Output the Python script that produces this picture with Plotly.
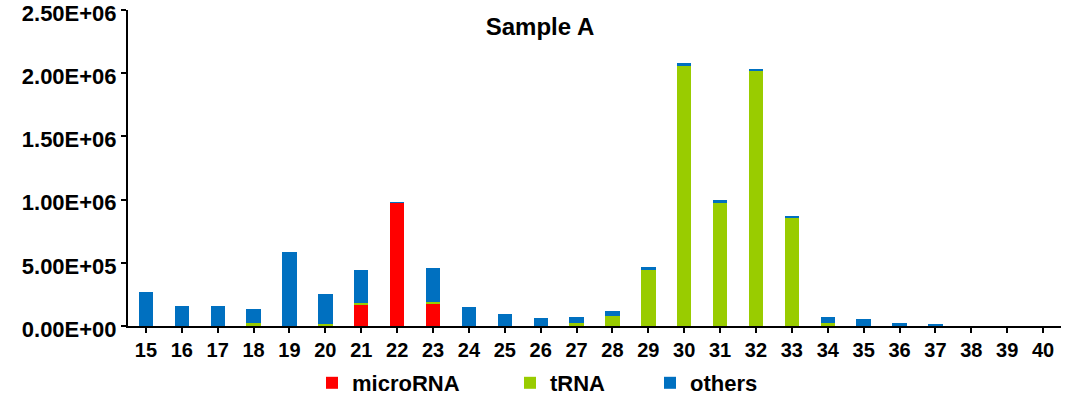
import plotly.graph_objects as go

categories = list(range(15, 41))
microRNA = [0, 0, 0, 0, 0, 0, 1.73e5, 9.75e5, 1.81e5, 0, 0, 0, 0, 0, 0, 0, 0, 0, 0, 0, 0, 0, 0, 0, 0, 0]
tRNA = [0, 0, 0, 2.5e4, 0, 1.2e4, 7e3, 0, 5e3, 0, 3e3, 0, 2.5e4, 8.3e4, 4.42e5, 2.056e6,
        9.7e5, 2.02e6, 8.52e5, 2e4, 0, 0, 0, 0, 0, 0]
others = [2.66e5, 1.6e5, 1.6e5, 1.12e5, 5.84e5, 2.43e5, 2.64e5, 5e3, 2.69e5, 1.5e5, 9.2e4, 6.1e4,
          5e4, 3.2e4, 2.1e4, 2.4e4, 2.4e4, 1.6e4, 1.8e4, 5e4, 5.5e4, 2.7e4, 1e4, 0, 0, 0]
ytick_vals = [0, 5e5, 1e6, 1.5e6, 2e6, 2.5e6]
ytick_text = ["0.00E+00", "5.00E+05", "1.00E+06", "1.50E+06", "2.00E+06", "2.50E+06"]
title = "Sample A"

FONT = "Liberation Sans, Arial, sans-serif"

fig = go.Figure()
series = [("microRNA", microRNA, "#FF0000", "legend"),
          ("tRNA", tRNA, "#99CC00", "legend2"),
          ("others", others, "#0070C0", "legend3")]
for name, vals, col, lg in series:
    fig.add_trace(go.Bar(x=categories, y=vals, name="<b>" + name + "</b>",
                         marker_color=col, marker_line_width=0, legend=lg, showlegend=True))


def leg(xpx):
    return dict(orientation="h", xref="container", yref="container",
                x=xpx / 1080, y=14 / 397, xanchor="left", yanchor="middle",
                bgcolor="rgba(0,0,0,0)", visible=True,
                font=dict(family=FONT, size=22, color="#000"))


fig.update_layout(
    width=1080, height=397, showlegend=True,
    barmode="stack", bargap=0.6,
    paper_bgcolor="white", plot_bgcolor="white",
    margin=dict(l=128, r=19, t=10, b=71, autoexpand=False),
    title=dict(text="<b>" + title + "</b>", x=0.5, xref="container", y=1 - 27 / 397,
               yref="container", xanchor="center", yanchor="middle",
               font=dict(family=FONT, size=24, color="#000")),
    font=dict(family=FONT, color="#000"),
    xaxis=dict(range=[14.5, 40.5], tickmode="array", tickvals=categories,
               ticktext=["<b>%d</b>" % c for c in categories],
               showline=True, linecolor="#000", linewidth=2,
               ticks="outside", ticklen=5, tickwidth=2, tickcolor="#000",
               showgrid=False, zeroline=False, ticklabeloverflow="allow",
               tickfont=dict(family=FONT, size=20, color="#000")),
    yaxis=dict(range=[0, 2.5e6], tickmode="array", tickvals=ytick_vals,
               ticktext=["<b>%s</b>" % t for t in ytick_text],
               showline=True, linecolor="#000", linewidth=2,
               ticks="outside", ticklen=5, tickwidth=2, tickcolor="#000",
               showgrid=False, zeroline=False, ticklabeloverflow="allow",
               ticklabelshift=3,
               tickfont=dict(family=FONT, size=22, color="#000")),
    legend=leg(312),
    legend2=leg(510),
    legend3=leg(650),
)

fig.write_html("out.html", config={"displayModeBar": False},
               post_script="document.body.style.margin='0';document.body.style.overflow='hidden';")
